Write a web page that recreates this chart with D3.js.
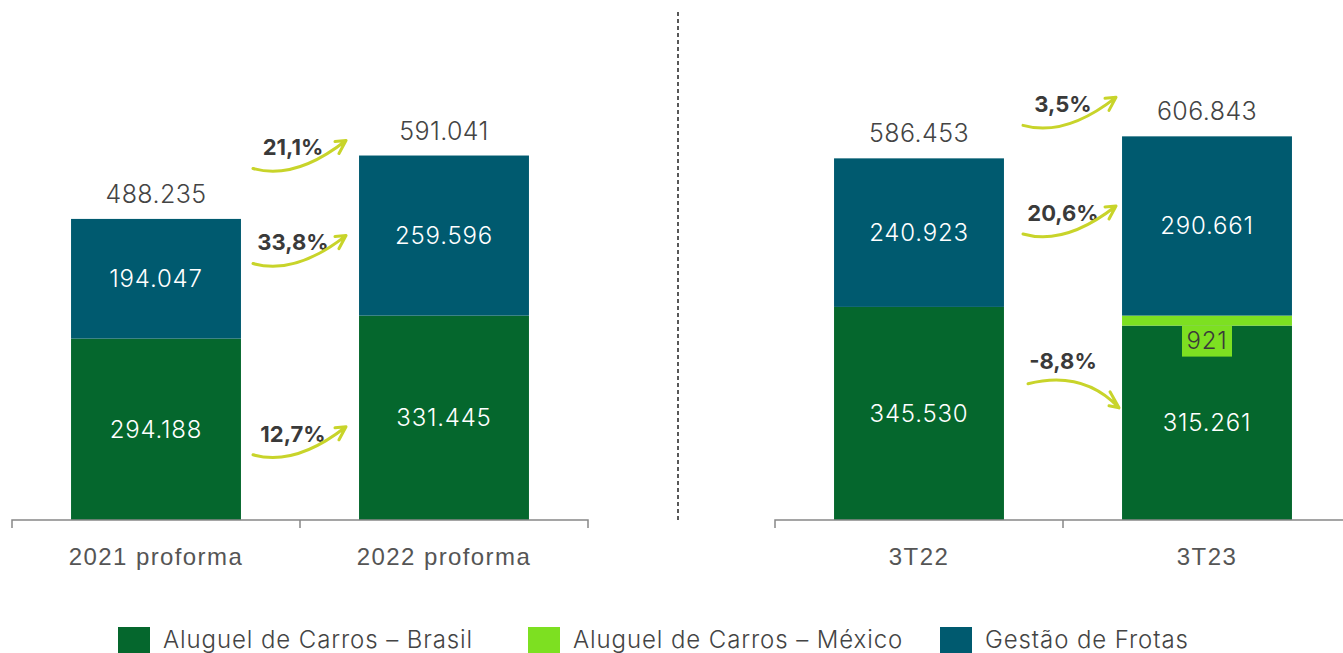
<!DOCTYPE html>
<html>
<head>
<meta charset="utf-8">
<script src="https://cdn.jsdelivr.net/npm/d3@7"></script>
<style>
  body { margin: 0; background: #fff; }
  svg { font-family: Inter, "Noto Sans", sans-serif; }
  .axis text { fill: #555; font-size: 24px; font-weight: 300; letter-spacing: 1.4px; }
</style>
</head>
<body>
<svg id="chart" width="1343" height="653"></svg>
<script>
// data
const periodsAnnual = ['2021 proforma', '2022 proforma'];
const periodsQuarter = ['3T22', '3T23'];
const seriesNames = ['Aluguel de Carros – Brasil', 'Aluguel de Carros – México', 'Gestão de Frotas'];
const brasil = [294188, 331445, 345530, 315261];
const mexico = [0, 0, 0, 921];
const frotas = [194047, 259596, 240923, 290661];
const growthTotal = ['21,1%', '3,5%'];
const growthFrotas = ['33,8%', '20,6%'];
const growthBrasil = ['12,7%', '-8,8%'];

const colors = ['#05672d', '#7de021', '#005a6f'];
const arrowColor = '#c8d42a';

const ptBR = d3.formatLocale({ decimal: ',', thousands: '.', grouping: [3], currency: ['R$', ''] });
const fmt = ptBR.format(',');

const svg = d3.select('#chart');
const baseY = 520;
const y = d3.scaleLinear().domain([0, 600000]).range([baseY, 150]);
const minPx = 10;

const panels = [
  { cats: periodsAnnual, range: [12, 588], offset: 0, ann: 0 },
  { cats: periodsQuarter, range: [775, 1351], offset: 2, ann: 1 }
];

// dashed separator
svg.append('line')
  .attr('x1', 678).attr('x2', 678)
  .attr('y1', 12).attr('y2', baseY)
  .attr('stroke', '#222').attr('stroke-width', 1.5)
  .attr('stroke-dasharray', '4,3');

function arrowUp(g, xc, ly) {
  const x0 = xc - 46, x1 = xc + 47;
  const sy = ly + 21, ey = ly - 7;
  const p = d3.path();
  p.moveTo(x0, sy);
  p.quadraticCurveTo(x0 + 42, sy + 12, x1, ey);
  p.moveTo(x1 - 11, ey + 1);
  p.lineTo(x1, ey);
  p.lineTo(x1 - 7, ey + 13);
  g.append('path').attr('d', p.toString())
    .attr('fill', 'none').attr('stroke', arrowColor)
    .attr('stroke-width', 3).attr('stroke-linecap', 'round').attr('stroke-linejoin', 'round');
}

function arrowDown(g, xc, ly) {
  const x0 = xc - 41, x1 = xc + 50;
  const sy = ly + 22, ey = ly + 46;
  const p = d3.path();
  p.moveTo(x0, sy);
  p.quadraticCurveTo(x0 + 55, sy - 14, x1, ey);
  p.moveTo(x1 - 9, ey - 16);
  p.lineTo(x1, ey);
  p.lineTo(x1 - 10, ey - 2);
  g.append('path').attr('d', p.toString())
    .attr('fill', 'none').attr('stroke', arrowColor)
    .attr('stroke-width', 3).attr('stroke-linecap', 'round').attr('stroke-linejoin', 'round');
}

function growthLabel(g, xc, ly, txt) {
  g.append('text')
    .attr('x', xc).attr('y', ly)
    .attr('dy', '0.35em')
    .attr('text-anchor', 'middle')
    .attr('font-size', 22).attr('font-weight', 700)
    .attr('fill', '#3a3a3a')
    .text(txt);
}

panels.forEach(panel => {
  const x = d3.scaleBand().domain(panel.cats).range(panel.range)
    .paddingInner(0.41).paddingOuter(0.205);
  const g = svg.append('g');

  // stacked bars built in pixel space so tiny segments stay visible
  const bars = panel.cats.map((c, i) => {
    const idx = panel.offset + i;
    const vals = [brasil[idx], mexico[idx], frotas[idx]];
    let top = baseY;
    const segs = vals.map((v, s) => {
      let h = v > 0 ? Math.max(y(0) - y(v), minPx) : 0;
      const seg = { cat: c, s, v, y1: top, y0: top - h };
      top -= h;
      return seg;
    });
    return { cat: c, segs, top, total: d3.sum(vals) };
  });

  bars.forEach(b => {
    g.selectAll(null).data(b.segs.filter(d => d.v > 0)).enter()
      .append('rect')
      .attr('x', x(b.cat)).attr('width', x.bandwidth())
      .attr('y', d => d.y0).attr('height', d => d.y1 - d.y0)
      .attr('fill', d => colors[d.s]);

    b.segs.filter(d => d.v > 0).forEach(d => {
      const cx = x(b.cat) + x.bandwidth() / 2;
      if (d.y1 - d.y0 > 40) {
        g.append('text')
          .attr('x', cx).attr('y', (d.y0 + d.y1) / 2)
          .attr('dy', '0.35em').attr('text-anchor', 'middle')
          .attr('font-size', 24).attr('font-weight', 300)
          .attr('letter-spacing', 0.8).attr('fill', '#fff')
          .text(fmt(d.v));
      } else {
        g.append('rect')
          .attr('x', cx - 25).attr('y', d.y1)
          .attr('width', 50).attr('height', 31)
          .attr('fill', colors[d.s]);
        g.append('text')
          .attr('x', cx).attr('y', d.y1 + 15)
          .attr('dy', '0.35em').attr('text-anchor', 'middle')
          .attr('font-size', 24).attr('font-weight', 300)
          .attr('letter-spacing', 0.8).attr('fill', '#3a3a3a')
          .text(fmt(d.v));
      }
    });

    g.append('text')
      .attr('x', x(b.cat) + x.bandwidth() / 2).attr('y', b.top - 16)
      .attr('text-anchor', 'middle')
      .attr('font-size', 25).attr('font-weight', 300)
      .attr('letter-spacing', 0.4).attr('fill', '#444')
      .text(fmt(b.total));
  });

  // axis
  const axisG = g.append('g').attr('class', 'axis')
    .attr('transform', `translate(0,${baseY})`)
    .call(d3.axisBottom(x).tickSize(0).tickPadding(28));
  axisG.select('.domain').remove();
  const [r0, r1] = panel.range;
  const mid = (r0 + r1) / 2;
  g.append('path')
    .attr('d', `M${r0},${baseY + 8}V${baseY}H${r1}V${baseY + 8}M${mid},${baseY}V${baseY + 8}`)
    .attr('fill', 'none').attr('stroke', '#888').attr('stroke-width', 1.5);

  // growth annotations
  const b2 = bars[1];
  const segMid = s => (b2.segs[s].y0 + b2.segs[s].y1) / 2;
  const lx = panel.ann === 0 ? mid - 7 : mid;
  const ax = lx + 6;
  const offs = panel.ann === 0 ? { t: -8, f: 7, b: 16 } : { t: -32, f: -13, b: -61 };

  const yT = b2.top + offs.t;
  growthLabel(g, lx, yT, growthTotal[panel.ann]);
  arrowUp(g, ax, yT);

  const yF = segMid(2) + offs.f;
  growthLabel(g, lx, yF, growthFrotas[panel.ann]);
  arrowUp(g, ax, yF);

  const yB = segMid(0) + offs.b;
  growthLabel(g, lx, yB, growthBrasil[panel.ann]);
  const bv = parseFloat(growthBrasil[panel.ann].replace(',', '.'));
  if (bv < 0) arrowDown(g, ax, yB); else arrowUp(g, ax, yB);
});

// legend
const legendX = [118, 528, 940];
const legend = svg.append('g');
seriesNames.forEach((n, i) => {
  legend.append('rect')
    .attr('x', legendX[i]).attr('y', 627)
    .attr('width', 32).attr('height', 30)
    .attr('fill', colors[i]);
  legend.append('text')
    .attr('x', legendX[i] + 45).attr('y', 648)
    .attr('font-size', 24).attr('font-weight', 300)
    .attr('letter-spacing', 0.9).attr('fill', '#444')
    .text(n);
});
</script>
</body>
</html>
